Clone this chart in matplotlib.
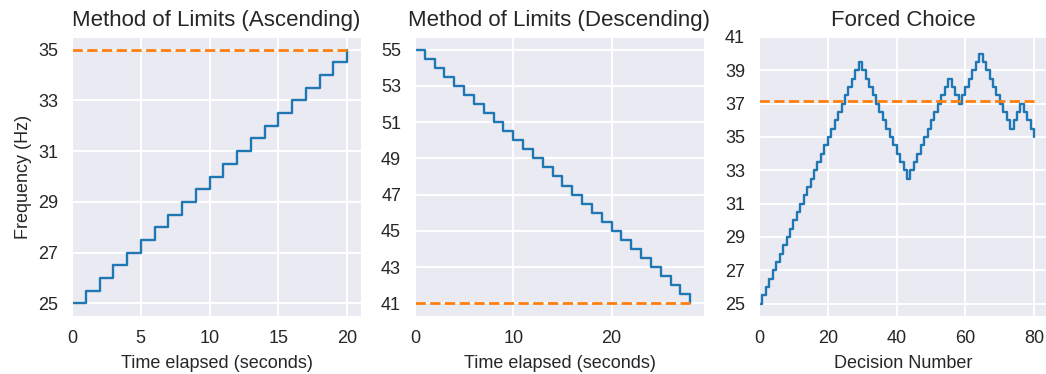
import matplotlib
matplotlib.use("Agg")
import matplotlib.pyplot as plt
import seaborn as sns

# ---- data ----
asc_time = list(range(0, 21))
asc_freq = [25.0, 25.5, 26.0, 26.5, 27.0, 27.5, 28.0, 28.5, 29.0, 29.5, 30.0,
            30.5, 31.0, 31.5, 32.0, 32.5, 33.0, 33.5, 34.0, 34.5, 35.0]
asc_threshold = 35.0

desc_time = list(range(0, 29))
desc_freq = [55.0, 54.5, 54.0, 53.5, 53.0, 52.5, 52.0, 51.5, 51.0, 50.5, 50.0,
             49.5, 49.0, 48.5, 48.0, 47.5, 47.0, 46.5, 46.0, 45.5, 45.0,
             44.5, 44.0, 43.5, 43.0, 42.5, 42.0, 41.5, 41.0]
desc_threshold = 41.0

fc_decision = list(range(0, 81))
fc_freq = [25.0, 25.5, 26.0, 26.5, 27.0, 27.5, 28.0, 28.5, 29.0, 29.5,
           30.0, 30.5, 31.0, 31.5, 32.0, 32.5, 33.0, 33.5, 34.0, 34.5,
           35.0, 35.5, 36.0, 36.5, 37.0, 37.5, 38.0, 38.5, 39.0, 39.5,
           39.0, 38.5, 38.0, 37.5, 37.0, 36.5, 36.0, 35.5, 35.0, 34.5,
           34.0, 33.5, 33.0, 32.5,
           33.0, 33.5, 34.0, 34.5, 35.0, 35.5, 36.0, 36.5, 37.0, 37.5, 38.0, 38.5,
           38.0, 37.5, 37.0,
           37.5, 38.0, 38.5, 39.0, 39.5, 40.0,
           39.5, 39.0, 38.5, 38.0, 37.5, 37.0, 36.5, 36.0, 35.5,
           36.0, 36.5, 37.0,
           36.5, 36.0, 35.5, 35.0]
fc_threshold = 37.14

asc_yticks = [25, 27, 29, 31, 33, 35]
desc_yticks = [41, 43, 45, 47, 49, 51, 53, 55]
fc_yticks = [25, 27, 29, 31, 33, 35, 37, 39, 41]
asc_xticks = [0, 5, 10, 15, 20]
desc_xticks = [0, 10, 20]
fc_xticks = [0, 20, 40, 60, 80]

titles = ["Method of Limits (Ascending)", "Method of Limits (Descending)", "Forced Choice"]
xlabels = ["Time elapsed (seconds)", "Time elapsed (seconds)", "Decision Number"]

sns.set_style("darkgrid")
plt.rcParams['font.family'] = ['Liberation Sans', 'DejaVu Sans']
plt.rcParams['grid.linewidth'] = 1.4

W, H = 1046, 374
fig = plt.figure(figsize=(W / 100, H / 100), dpi=100)

lefts = [72, 415, 759]
aw, top, bottom = 289, 37, 316
axes = [fig.add_axes([l / W, 1 - bottom / H, aw / W, (bottom - top) / H]) for l in lefts]

panels = [
    (asc_time, asc_freq, asc_threshold, asc_xticks, asc_yticks),
    (desc_time, desc_freq, desc_threshold, desc_xticks, desc_yticks),
    (fc_decision, fc_freq, fc_threshold, fc_xticks, fc_yticks),
]

for ax, (x, y, thr, xt, yt), title, xl in zip(axes, panels, titles, xlabels):
    ax.step(x, y, where="post", color="#1f77b4", lw=1.7)
    ax.hlines(thr, x[0], x[-1], colors="#ff7f0e", linestyles="--", lw=2)
    ax.set_xlim(left=0)
    ax.set_xticks(xt)
    ax.set_yticks(yt)
    ax.set_title(title, fontsize=16, pad=8, color="#262626")
    ax.set_xlabel(xl, fontsize=13, color="#262626", labelpad=6)
    ax.tick_params(axis="both", labelsize=13, pad=10, length=0, colors="#262626")

axes[0].set_ylabel("Frequency (Hz)", fontsize=13, color="#262626", labelpad=4)

fig.savefig("out.png", dpi=100)
